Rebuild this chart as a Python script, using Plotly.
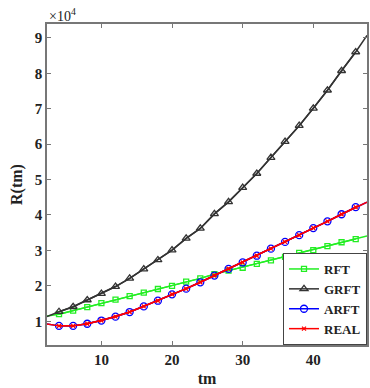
import plotly.graph_objects as go

# tm positions with markers
tm = [4, 6, 8, 10, 12, 14, 16, 18, 20, 22, 24, 26, 28, 30, 32, 34, 36, 38, 40, 42, 44, 46]
# axis ends (lines extend to these)
tm_start = 2.3
tm_end = 47.6

rft = [12000, 13000, 14000, 15100, 16100, 17100, 18100, 19100, 20000, 21200, 22100, 23300,
       24300, 25100, 26200, 27200, 28200, 29300, 30100, 31200, 32300, 33200]
rft_ends = [11500, 34100]

grft = [12700, 14100, 16000, 17800, 19800, 22100, 24700, 27300, 30100, 33400, 36200, 40300,
        43700, 47700, 51700, 56200, 60700, 65200, 70100, 75200, 80700, 86000]
grft_ends = [11300, 90700]

arft = [8700, 8700, 9300, 10200, 11300, 12600, 14200, 15800, 17600, 19200, 21000, 22900,
        24800, 26600, 28500, 30500, 32400, 34300, 36300, 38200, 40200, 42200]
real = arft[:]
real_ends = [9200, 43600]

y_ticks = [10000, 20000, 30000, 40000, 50000, 60000, 70000, 80000, 90000]
y_labels = ["1", "2", "3", "4", "5", "6", "7", "8", "9"]
x_ticks = [10, 20, 30, 40]
x_labels = ["10", "20", "30", "40"]

GREEN = "#22ee22"
BLACK = "#333333"
BLUE = "#0000ff"
RED = "#ff0000"
SERIF = "Liberation Serif"

full_x = [tm_start] + tm + [tm_end]

fig = go.Figure()

def add_series(name, vals, ends, color, symbol, size, lw=1.5):
    fig.add_trace(go.Scatter(x=full_x, y=[ends[0]] + vals + [ends[1]], mode="lines",
                             line=dict(color=color, width=lw), showlegend=False,
                             hoverinfo="skip"))
    fig.add_trace(go.Scatter(x=tm, y=vals, mode="lines+markers", name="<b>" + name + "</b>",
                             line=dict(color=color, width=lw),
                             marker=dict(symbol=symbol, size=size, color=color,
                                         line=dict(color=color, width=1.3))))

add_series("RFT", rft, rft_ends, GREEN, "square-open", 5)
add_series("GRFT", grft, grft_ends, BLACK, "triangle-up-open", 7)
add_series("ARFT", arft, real_ends, BLUE, "circle-open", 7)
add_series("REAL", real, real_ends, RED, "x-thin-open", 4)

fig.update_layout(
    width=370, height=388,
    margin=dict(l=47, r=1, t=24, b=43),
    paper_bgcolor="white", plot_bgcolor="white",
    font=dict(family=SERIF, size=14, color="#222222"),
    xaxis=dict(range=[tm_start, tm_end], tickvals=x_ticks,
               ticktext=["<b>" + t + "</b>" for t in x_labels], ticks="inside", ticklen=4,
               tickcolor="#777777", showline=True, linecolor="#777777", linewidth=1.5,
               mirror="ticks", showgrid=False, zeroline=False,
               tickfont=dict(family=SERIF, size=15, color="#222222"),
               title=dict(text="<b>tm</b>", font=dict(family=SERIF, size=16), standoff=6)),
    yaxis=dict(range=[3300, 93900], tickvals=y_ticks,
               ticktext=["<b>" + t + "</b>" for t in y_labels], ticks="inside",
               ticklen=4, tickcolor="#777777", showline=True, linecolor="#777777",
               linewidth=1.5, mirror="ticks", showgrid=False, zeroline=False,
               tickfont=dict(family=SERIF, size=15, color="#222222"),
               title=dict(text="<b>R(tm)</b>", font=dict(family=SERIF, size=16), standoff=8)),
    legend=dict(x=1, y=0, xanchor="right", yanchor="bottom", bgcolor="white",
                bordercolor="#444444", borderwidth=1,
                font=dict(family=SERIF, size=13, color="#222222"),
                tracegroupgap=0, itemwidth=30),
    annotations=[dict(text="×10<sup>4</sup>", xref="paper", yref="paper", x=0, y=1,
                      xanchor="left", yanchor="bottom", showarrow=False,
                      font=dict(family=SERIF, size=14, color="#222222"),
                      yshift=-2)],
)

fig.write_html("out.html")
